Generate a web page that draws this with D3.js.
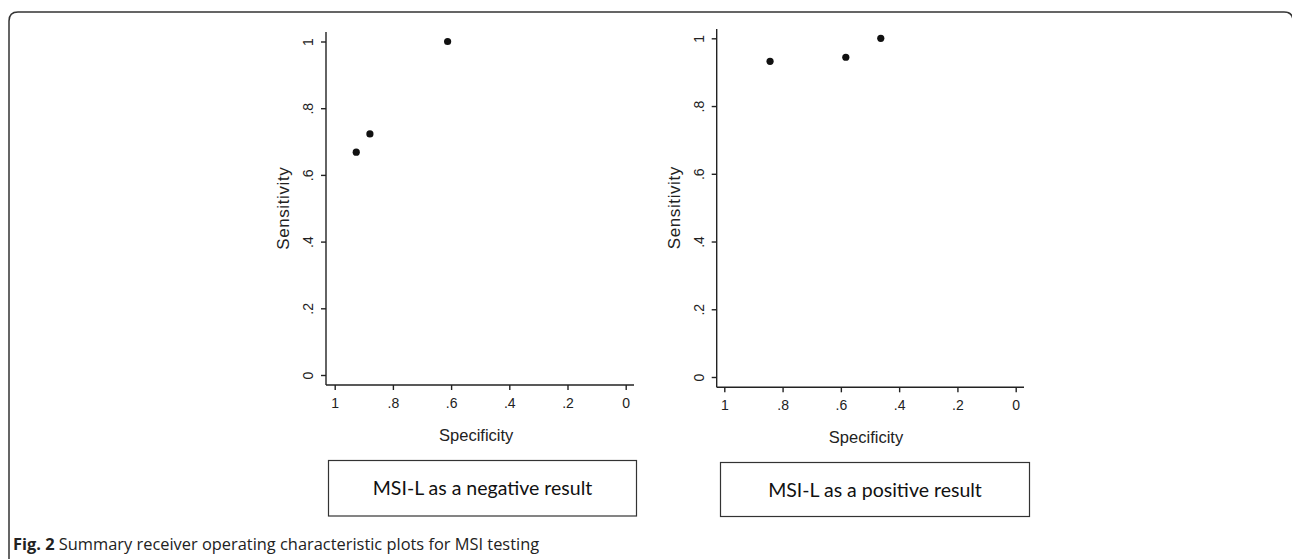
<!DOCTYPE html>
<html>
<head>
<meta charset="utf-8">
<script src="https://cdn.jsdelivr.net/npm/d3@7"></script>
<style>
  body { margin: 0; background: #fff; }
  svg { display: block; }
</style>
</head>
<body>
<svg id="fig" width="1292" height="559"></svg>
<script>
// data
const xTicks = [1, 0.8, 0.6, 0.4, 0.2, 0];
const yTicks = [0, 0.2, 0.4, 0.6, 0.8, 1];
const negSpec = [0.926, 0.879, 0.612];
const negSens = [0.668, 0.723, 1.0];
const posSpec = [0.843, 0.583, 0.463];
const posSens = [0.932, 0.944, 1.0];
const panelLabels = ["MSI-L as a negative result", "MSI-L as a positive result"];
const captionBold = "Fig. 2";
const captionText = " Summary receiver operating characteristic plots for MSI testing";

const svg = d3.select("#fig");
const ink = "#222";
const axisFont = "'Liberation Sans', Arial, sans-serif";

// outer frame, open at the bottom
svg.append("path")
    .attr("d", "M9,560 L9,21 Q9,12 18,12 L1284,12 Q1293,12 1293,21 L1293,560")
    .attr("fill", "none")
    .attr("stroke", "#333")
    .attr("stroke-width", 1.5);

const fmt = d => d === 0 ? "0" : d === 1 ? "1" : d3.format(".1f")(d).replace(/^0/, "");

function panel(opt) {
    const x = d3.scaleLinear().domain([1, 0]).range([opt.x1, opt.x0]);
    const y = d3.scaleLinear().domain([0, 1]).range([opt.y0, opt.y1]);
    const g = svg.append("g");

    // y axis, labels turned like the Stata output
    const ya = g.append("g")
        .attr("transform", `translate(${opt.ax},0)`)
        .call(d3.axisLeft(y).tickValues(yTicks).tickFormat(fmt).tickSize(5));
    ya.select(".domain").attr("d", `M0,${opt.axTop}V${opt.ay}`);
    ya.selectAll(".tick text")
        .attr("x", -18).attr("y", 0).attr("dy", "0.36em")
        .attr("transform", "rotate(-90,-18,0)")
        .attr("text-anchor", "middle");

    // x axis
    const xa = g.append("g")
        .attr("transform", `translate(0,${opt.ay})`)
        .call(d3.axisBottom(x).tickValues(xTicks).tickFormat(fmt).tickSize(5).tickPadding(8));
    xa.select(".domain").attr("d", `M${opt.ax},0H${opt.axRight}`);

    [ya, xa].forEach(a => {
        a.selectAll("path, line").attr("stroke", ink).attr("stroke-width", 1.4);
        a.selectAll("text")
            .attr("fill", ink)
            .style("font-family", axisFont)
            .style("font-size", "14px");
    });

    // titles
    g.append("text")
        .attr("x", (opt.x0 + opt.x1) / 2 - 4)
        .attr("y", opt.ay + 56)
        .attr("text-anchor", "middle")
        .attr("fill", ink)
        .style("font-family", axisFont)
        .style("font-size", "16.5px")
        .text("Specificity");
    g.append("text")
        .attr("transform", `translate(${opt.ax - 37},${(opt.y0 + opt.y1) / 2}) rotate(-90)`)
        .attr("text-anchor", "middle")
        .attr("fill", ink)
        .style("font-family", axisFont)
        .style("font-size", "17px")
        .style("letter-spacing", "0.6px")
        .text("Sensitivity");

    // points
    g.selectAll("circle.pt")
        .data(opt.spec.map((s, i) => [s, opt.sens[i]]))
        .enter().append("circle")
        .attr("class", "pt")
        .attr("cx", d => x(d[0]))
        .attr("cy", d => y(d[1]))
        .attr("r", 3.6)
        .attr("fill", "#111");

    // label box
    g.append("rect")
        .attr("x", opt.bx).attr("y", opt.by)
        .attr("width", opt.bw).attr("height", opt.bh)
        .attr("fill", "none")
        .attr("stroke", "#333")
        .attr("stroke-width", 1.2);
    g.append("text")
        .attr("x", opt.bx + opt.bw / 2)
        .attr("y", opt.by + opt.bh / 2 + 7)
        .attr("text-anchor", "middle")
        .attr("fill", "#111")
        .style("font-family", "Lato, 'Open Sans', sans-serif")
        .style("font-size", "19.5px")
        .text(opt.label);
}

panel({
    x0: 625.7, x1: 334.7, y0: 375, y1: 41.5,
    ax: 326, ay: 385, axTop: 32, axRight: 634,
    spec: negSpec, sens: negSens,
    bx: 328.5, by: 460.5, bw: 308, bh: 55.5, label: panelLabels[0]
});
panel({
    x0: 1015.7, x1: 724.3, y0: 377, y1: 38.3,
    ax: 716.7, ay: 387.3, axTop: 29, axRight: 1024,
    spec: posSpec, sens: posSens,
    bx: 720.5, by: 462.5, bw: 309, bh: 54, label: panelLabels[1]
});

// caption
const cap = svg.append("text")
    .attr("x", 13)
    .attr("y", 550)
    .attr("fill", "#222")
    .style("font-family", "'Open Sans', sans-serif")
    .style("font-size", "16.4px");
cap.append("tspan").style("font-weight", "bold").text(captionBold);
cap.append("tspan").text(captionText);
</script>
</body>
</html>
